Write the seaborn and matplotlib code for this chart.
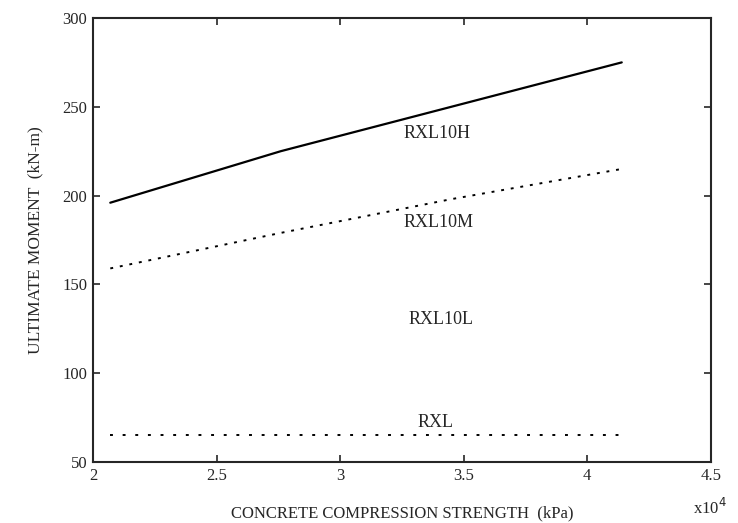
import pandas as pd
import seaborn as sns
import matplotlib.pyplot as plt

# concrete strength (x10^4 kPa) and ultimate moment (kN-m)
strength = [2.07, 2.76, 3.45, 4.14]
rxl10h = [196, 225, 250, 275]
rxl10m = [159, 179, 198, 215]
rxl = [65, 65, 65, 65]

x_ticks = [2, 2.5, 3, 3.5, 4, 4.5]
x_tick_labels = ["2", "2.5", "3", "3.5", "4", "4.5"]
y_ticks = [50, 100, 150, 200, 250, 300]

labels = ["RXL10H", "RXL10M", "RXL10L", "RXL"]
label_x = [3.255, 3.255, 3.275, 3.315]
label_y = [235, 185, 130, 72]

sns.set_style("ticks")
plt.rcParams['font.family'] = ['Liberation Serif', 'DejaVu Serif']
plt.rcParams['xtick.direction'] = 'in'
plt.rcParams['ytick.direction'] = 'in'

fig = plt.figure(figsize=(7.38, 5.23), dpi=100)
ax = fig.add_axes([0.126, 0.1166, 0.837, 0.849])

df = pd.DataFrame({"strength": strength, "RXL10H": rxl10h, "RXL10M": rxl10m, "RXL": rxl})

sns.lineplot(data=df, x="strength", y="RXL10H", ax=ax, color="black", linewidth=1.6)
sns.lineplot(data=df, x="strength", y="RXL10M", ax=ax, color="black", linewidth=1.4, linestyle=(0, (1.5, 3.5)))
sns.lineplot(data=df, x="strength", y="RXL", ax=ax, color="black", linewidth=1.4, linestyle=(0, (1.5, 5)))

for t, lx, ly in zip(labels, label_x, label_y):
    ax.text(lx, ly, t, fontsize=13, va="center", ha="left")

ax.set_xlim(2, 4.5)
ax.set_ylim(50, 300)
ax.set_xticks(x_ticks)
ax.set_xticklabels(x_tick_labels)
ax.set_yticks(y_ticks)
ax.tick_params(axis="both", labelsize=12, length=5, width=1.2, top=True, right=True, pad=4)
for s in ax.spines.values():
    s.set_linewidth(1.5)

ax.set_xlabel("CONCRETE COMPRESSION STRENGTH  (kPa)", fontsize=12, labelpad=16)
ax.set_ylabel("ULTIMATE MOMENT  (kN-m)", fontsize=12.5, labelpad=14)
fig.text(0.962, 0.028, "x10$^4$", fontsize=12, ha="center", va="center")

fig.savefig("out.png", dpi=100)
